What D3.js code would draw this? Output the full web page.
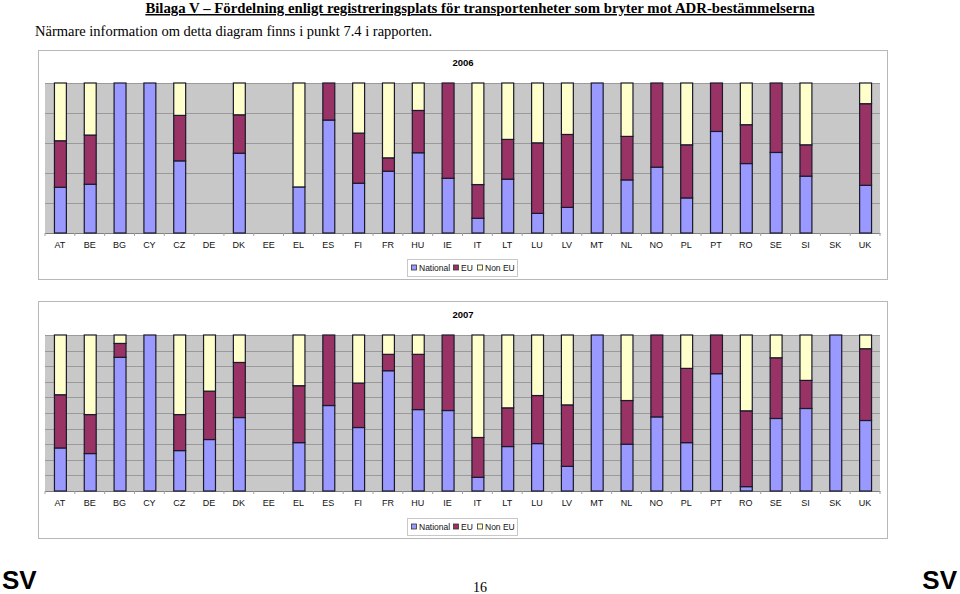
<!DOCTYPE html>
<html><head><meta charset="utf-8">
<script src="https://cdn.jsdelivr.net/npm/d3@7"></script>
<style>
body{margin:0;background:#fff;}
svg{display:block;}
</style></head>
<body><svg id="c" width="960" height="594"></svg>
<script>
const countries = ["AT","BE","BG","CY","CZ","DE","DK","EE","EL","ES","FI","FR","HU","IE","IT","LT","LU","LV","MT","NL","NO","PL","PT","RO","SE","SI","SK","UK"];
const seriesNames = ["National","EU","Non EU"];
const seriesColors = ["#9999FF","#993366","#FFFFCC"];

const national2006 = [30.5,32.5,100,100,48.1,0,53.2,0,30.7,75.3,33.2,41.2,53.5,36.5,9.8,35.9,13.1,17.1,100,35.4,43.9,23.4,67.7,46.3,53.7,37.9,0,31.8];
const eu2006       = [31.0,32.8,0,0,30.3,0,25.6,0,0,24.7,33.4,8.9,28.2,63.5,22.5,26.5,47.0,48.6,0,29.0,56.1,35.4,32.3,25.9,46.3,20.9,0,54.4];
const nonEu2006    = [38.5,34.7,0,0,21.6,0,21.2,0,69.3,0,33.4,49.9,18.3,0,67.7,37.6,39.9,34.3,0,35.6,0,41.2,0,27.8,0,41.2,0,13.8];

const national2007 = [27.6,24.0,85.7,100,25.9,33.0,47.1,0,31.0,54.8,40.7,77.1,52.2,51.6,8.8,28.5,30.4,15.8,100,30.0,47.5,31.0,75.2,2.8,46.5,52.9,100,45.2];
const eu2007       = [34.1,25.0,8.9,0,23.1,31.0,35.3,0,36.5,45.2,28.5,10.5,35.4,48.4,25.5,24.8,30.8,39.4,0,28.0,52.5,47.6,24.8,48.6,38.9,18.0,0,46.0];
const nonEu2007    = [38.3,51.0,5.4,0,51.0,36.0,17.6,0,32.5,0,30.8,12.4,12.4,0,65.7,46.7,38.8,44.8,0,42.0,0,21.4,0,48.6,14.6,29.1,0,8.8];

const yTicks2006 = [0,20,40,60,80,100];
const yTicks2007 = [0,10,20,30,40,50,60,70,80,90,100];

const svg = d3.select("#c");

// header
svg.append("text").attr("x",480).attr("y",13).attr("text-anchor","middle")
  .attr("font-family","Liberation Serif, Times New Roman, serif").attr("font-weight","bold")
  .attr("font-size",14.8).attr("text-decoration","underline")
  .text("Bilaga V – Fördelning enligt registreringsplats för transportenheter som bryter mot ADR-bestämmelserna");
svg.append("text").attr("x",35).attr("y",36)
  .attr("font-family","Liberation Serif, Times New Roman, serif").attr("font-size",14.5)
  .text("Närmare information om detta diagram finns i punkt 7.4 i rapporten.");

function chart(cfg){
  const g = svg.append("g");
  g.append("rect").attr("x",cfg.box[0]+0.5).attr("y",cfg.box[1]+0.5)
    .attr("width",cfg.box[2]-cfg.box[0]).attr("height",cfg.box[3]-cfg.box[1])
    .attr("fill","#fff").attr("stroke","#b8b8b8").attr("stroke-width",1);
  const x = d3.scaleBand().domain(countries).range([cfg.plot[0],cfg.plot[2]]).paddingInner(0.6).paddingOuter(0.3);
  const y = d3.scaleLinear().domain([0,100]).range([cfg.plot[3],cfg.plot[1]]);
  g.append("rect").attr("x",cfg.plot[0]).attr("y",cfg.plot[1])
    .attr("width",cfg.plot[2]-cfg.plot[0]).attr("height",cfg.plot[3]-cfg.plot[1]).attr("fill","#c8c8c8");
  g.selectAll(".grid").data(cfg.ticks).enter().append("line")
    .attr("x1",cfg.plot[0]).attr("x2",cfg.plot[2])
    .attr("y1",d=>Math.round(y(d))+0.5).attr("y2",d=>Math.round(y(d))+0.5)
    .attr("stroke","#9a9a9a").attr("stroke-width",1);
  const ax = g.append("g").attr("transform",`translate(0,${cfg.plot[3]})`)
    .call(d3.axisBottom(x).tickSize(0).tickPadding(9));
  ax.select(".domain").attr("stroke","#808080");
  ax.selectAll("text").attr("font-family","Liberation Sans, Arial, sans-serif").attr("font-size",9).attr("fill","#111");
  g.selectAll(".tk").data(d3.range(countries.length+1)).enter().append("line")
    .attr("x1",i=>cfg.plot[0]+ (cfg.plot[2]-cfg.plot[0])*i/countries.length)
    .attr("x2",i=>cfg.plot[0]+ (cfg.plot[2]-cfg.plot[0])*i/countries.length)
    .attr("y1",cfg.plot[3]).attr("y2",cfg.plot[3]+3).attr("stroke","#a0a0a0");
  const rows = countries.map((c,i)=>({c, National:cfg.data[0][i], EU:cfg.data[1][i], "Non EU":cfg.data[2][i]}));
  const stack = d3.stack().keys(seriesNames)(rows);
  stack.forEach((s,si)=>{
    g.selectAll(".b"+si).data(s.filter(d=>d[1]-d[0]>0)).enter().append("rect")
      .attr("x",d=>x(d.data.c)+0.5).attr("width",x.bandwidth())
      .attr("y",d=>y(d[1])).attr("height",d=>y(d[0])-y(d[1]))
      .attr("fill",seriesColors[si]).attr("stroke","#1a1a2a").attr("stroke-width",1.2);
  });
  g.append("text").attr("x",cfg.titleX).attr("y",cfg.titleY).attr("text-anchor","middle")
    .attr("font-family","Liberation Sans, Arial, sans-serif").attr("font-weight","bold").attr("font-size",9.5)
    .text(cfg.title);
  const L = cfg.legend;
  g.append("rect").attr("x",L[0]+0.5).attr("y",L[1]+0.5).attr("width",L[2]-L[0]).attr("height",L[3]-L[1])
    .attr("fill","#fff").attr("stroke","#c8c8c8");
  const items = [{n:"National",x:L[0]+4},{n:"EU",x:L[0]+46},{n:"Non EU",x:L[0]+70}];
  items.forEach((it,i)=>{
    g.append("rect").attr("x",it.x+0.5).attr("y",(L[1]+L[3])/2-2.5).attr("width",5).attr("height",5)
      .attr("fill",seriesColors[i]).attr("stroke","#333").attr("stroke-width",0.8);
    g.append("text").attr("x",it.x+8).attr("y",(L[1]+L[3])/2+3.5)
      .attr("font-family","Liberation Sans, Arial, sans-serif").attr("font-size",8.5).attr("fill","#111").text(it.n);
  });
}

chart({box:[38,50,887,279], plot:[45,83,880,233], ticks:yTicks2006, title:"2006", titleX:463, titleY:66,
  legend:[407,259,517,276], data:[national2006,eu2006,nonEu2006]});
chart({box:[38,301,887,538], plot:[45,335,880,491], ticks:yTicks2007, title:"2007", titleX:463, titleY:318,
  legend:[407,518,517,535], data:[national2007,eu2007,nonEu2007]});

// footer
svg.append("text").attr("x",2).attr("y",589).attr("font-family","Liberation Sans, Arial, sans-serif")
  .attr("font-weight","bold").attr("font-size",26).text("SV");
svg.append("text").attr("x",957).attr("y",589).attr("text-anchor","end").attr("font-family","Liberation Sans, Arial, sans-serif")
  .attr("font-weight","bold").attr("font-size",26).text("SV");
svg.append("text").attr("x",480).attr("y",592).attr("text-anchor","middle").attr("font-family","Liberation Serif, Times New Roman, serif")
  .attr("font-size",14).text("16");
</script></body></html>
